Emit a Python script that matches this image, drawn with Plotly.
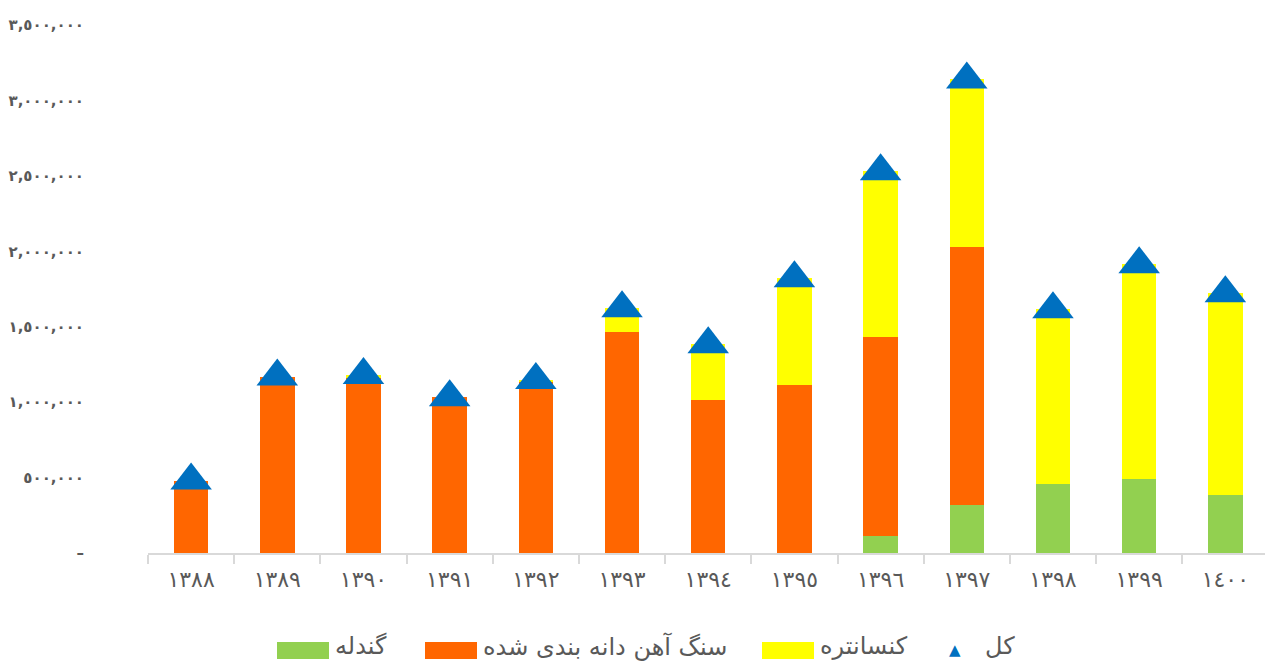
import plotly.graph_objects as go

# Years (Solar Hijri) and tonnage per product
years = ["١٣٨٨", "١٣٨٩", "١٣٩٠", "١٣٩١", "١٣٩٢", "١٣٩٣", "١٣٩٤",
         "١٣٩٥", "١٣٩٦", "١٣٩٧", "١٣٩٨", "١٣٩٩", "١٤٠٠"]
pellet = [0, 0, 0, 0, 0, 0, 0, 0, 113000, 318000, 457000, 490000, 384000]
graded_ore = [480000, 1170000, 1160000, 1033000, 1140000, 1464000, 1013000,
              1113000, 1318000, 1709000, 0, 0, 0]
concentrate = [0, 0, 20000, 0, 6000, 159000, 371000, 708000, 1099000,
               1112000, 1159000, 1424000, 1338000]
total = [p + g + c for p, g, c in zip(pellet, graded_ore, concentrate)]

y_tickvals = [0, 500000, 1000000, 1500000, 2000000, 2500000, 3000000, 3500000]
y_ticktext = ["–", "٥٠٠,٠٠٠", "١,٠٠٠,٠٠٠", "١,٥٠٠,٠٠٠", "٢,٠٠٠,٠٠٠",
              "٢,٥٠٠,٠٠٠", "٣,٠٠٠,٠٠٠", "٣,٥٠٠,٠٠٠"]

names = ["گندله", "سنگ آهن دانه بندی شده", "کنسانتره", "کل"]

GREEN = "#92D050"
ORANGE = "#FF6600"
YELLOW = "#FFFF00"
BLUE = "#0070C0"
TEXT = "#595959"
AXIS = "#D9D9D9"

W, H = 1265, 661
ML, MR, MT, MB = 84, 0, 25, 108
PW, PH = W - ML - MR, H - MT - MB


def px(x):
    return (x - ML) / PW


def py(y):
    return (H - MB - y) / PH


fig = go.Figure()
for vals, name, color in [(pellet, names[0], GREEN),
                          (graded_ore, names[1], ORANGE),
                          (concentrate, names[2], YELLOW)]:
    fig.add_trace(go.Bar(x=years, y=vals, name=name, marker_color=color,
                         marker_line_width=0, showlegend=False))

fig.add_trace(go.Scatter(x=years, y=total, name=names[3], mode="markers",
                         marker=dict(symbol="triangle-up", size=36, color=BLUE),
                         showlegend=False))

# Legend drawn below the axis with wide colour swatches
shapes = []
annotations = []
for label, color, x0 in [(names[0], GREEN, 277), (names[1], ORANGE, 425),
                         (names[2], YELLOW, 762)]:
    shapes.append(dict(type="rect", xref="paper", yref="paper",
                       x0=px(x0), x1=px(x0 + 52), y0=py(659), y1=py(642),
                       fillcolor=color, line_width=0))
    annotations.append(dict(xref="paper", yref="paper", x=px(x0 + 56), y=py(646),
                            xanchor="left", yanchor="middle", showarrow=False,
                            text=label, font=dict(size=24, color=TEXT)))
annotations.append(dict(xref="paper", yref="paper", x=px(955), y=py(650),
                        xanchor="center", yanchor="middle", showarrow=False,
                        text="▲", font=dict(size=15, color=BLUE)))
annotations.append(dict(xref="paper", yref="paper", x=px(983), y=py(646),
                        xanchor="left", yanchor="middle", showarrow=False,
                        text=names[3], font=dict(size=24, color=TEXT)))

fig.update_layout(
    width=W, height=H,
    margin=dict(l=ML, r=MR, t=MT, b=MB),
    barmode="stack", bargap=0.6,
    plot_bgcolor="white", paper_bgcolor="white",
    font=dict(family="DejaVu Sans", color=TEXT),
    shapes=shapes, annotations=annotations,
    xaxis=dict(domain=[px(148), 1], range=[-0.5, 12.46],
               showline=True, linecolor=AXIS, linewidth=2,
               ticks="outside", tickson="boundaries", ticklen=9,
               tickcolor=AXIS, tickwidth=2, showgrid=False,
               ticklabelstandoff=6,
               tickfont=dict(size=22, color=TEXT)),
    yaxis=dict(anchor="free", position=0, range=[0, 3500000],
               tickvals=y_tickvals, ticktext=y_ticktext,
               showgrid=False, zeroline=False, showline=False,
               tickfont=dict(size=15, color=TEXT, weight="bold")),
)

fig.write_html("out.html")
